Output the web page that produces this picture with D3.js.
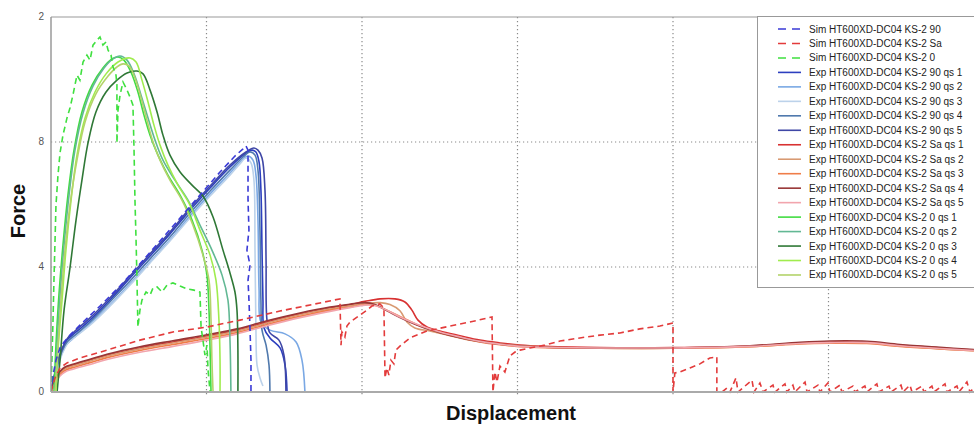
<!DOCTYPE html>
<html>

<head>
  <meta charset="utf-8">
  <style>
    body {
      margin: 0;
      background: #fff;
      font-family: 'Liberation Sans', Arial, sans-serif;
    }

    .grid line {
      stroke: #8a8a8a;
      stroke-width: 1.2;
      stroke-dasharray: 1.2, 2.8;
    }

    .frame {
      stroke: #9a9a9a;
      fill: none;
    }

    .tick-label {
      font-size: 10px;
      fill: #555;
      text-anchor: end;
    }

    .axis-title {
      font-size: 20px;
      font-weight: bold;
      fill: #111;
      text-anchor: middle;
    }

    .legend text {
      font-size: 10px;
      fill: #222;
    }
  </style>
</head>

<body>
  <div id="chart"></div>

  <script src="https://cdnjs.cloudflare.com/ajax/libs/d3/7.8.5/d3.min.js"></script>
  <script>
    // axis settings
    var xGrid = [10, 20, 30, 40, 50];
    var yTicks = [0, 4, 8, 12];
    var yTickLabels = ['0', '4', '8', '2'];

    // simulations
    var sim90 = [[0,0],[0.13,0.54],[0.32,1.02],[0.58,1.41],[0.84,1.6],[1.22,1.82],[1.86,2.14],[3.15,2.75],[4.44,3.39],[5.72,4.1],[7.01,4.83],[8.3,5.57],[9.58,6.3],[10.87,7.04],[11.83,7.55],[12.35,7.78],[12.54,7.87],[12.67,7.74],[12.67,6.14],[12.73,5.18],[12.6,4.54],[12.8,4.06],[12.67,3.58],[12.73,2.94],[12.8,1.98],[12.86,1.02],[12.86,0]];

    var simSa = [[0,0],[0.26,0.45],[0.58,0.77],[1.03,0.93],[1.86,1.09],[3.6,1.34],[5.72,1.66],[7.84,1.92],[10.03,2.08],[12.15,2.3],[14.72,2.59],[17.3,2.85],[18.58,2.98],[18.65,1.5],[18.71,1.92],[18.9,1.76],[19.03,2.11],[19.23,2.24],[19.87,2.46],[20.32,2.62],[20.64,2.75],[21.15,2.82],[21.41,2.69],[21.48,0.45],[21.6,0.77],[21.73,0.54],[21.86,1.02],[22.05,0.9],[22.18,1.34],[22.44,1.47],[23.08,1.73],[24.18,1.95],[25.66,2.11],[26.94,2.24],[28.36,2.4],[28.42,0],[28.55,0.64],[28.68,0.32],[28.87,0.83],[29.19,0.64],[29.51,1.15],[29.84,1.28],[30.16,1.34],[30.8,1.41],[31.76,1.5],[32.73,1.63],[34.01,1.73],[35.3,1.82],[36.59,1.89],[37.87,2.02],[39.16,2.11],[40,2.21],[40,0],[40.12,0.61],[40.45,0.64],[41.09,0.77],[41.73,0.9],[42.37,1.09],[42.82,1.12],[42.82,0],
      [43.15,0],[43.47,0.13],[43.66,0],[44.05,0.45],[44.18,0],[44.63,0.19],[45.08,0.38],[45.21,0],[45.59,0.29],[45.79,0],[46.43,0.22],[46.56,0],[47.2,0.26],[47.33,0],[47.71,0.22],[47.84,0],[48.49,0.32],[48.62,0],[49.32,0.22],[49.45,0],[49.96,0.29],[50.09,0],[50.74,0.22],[50.86,0],[51.57,0.19],[51.7,0],[52.34,0.19],[52.47,0],[53.11,0.26],[53.24,0],[53.89,0.19],[54.02,0],[54.66,0.22],[54.79,0],[55.24,0.22],[55.37,0],[56.01,0.19],[56.14,0],[56.65,0.19],[56.78,0],[57.49,0.26],[57.62,0],[58.26,0.19],[58.39,0],[58.9,0.32],[59.1,0],[59.36,0.13]];

    var sim0 = [[0,0],[0.06,1.02],[0.13,2.3],[0.19,3.58],[0.26,4.86],[0.32,5.98],[0.45,6.94],[0.58,7.65],[0.77,8.22],[1.03,8.77],[1.22,9.09],[1.41,9.5],[1.67,10.14],[1.86,9.98],[2.06,10.56],[2.31,10.78],[2.51,10.62],[2.7,11.1],[2.96,11.26],[3.15,11.36],[3.34,11.1],[3.54,11.2],[3.67,10.94],[3.86,10.78],[3.99,10.4],[4.18,10.14],[4.24,9.82],[4.24,7.97],[4.31,9.02],[4.44,9.5],[4.63,9.92],[4.89,9.66],[5.08,9.44],[5.27,9.18],[5.34,7.74],[5.4,6.14],[5.47,4.86],[5.53,3.58],[5.59,2.08],[5.72,2.62],[5.85,2.94],[6.11,3.2],[6.37,3.1],[6.56,3.33],[6.82,3.36],[7.14,3.2],[7.46,3.42],[7.84,3.49],[8.3,3.39],[8.75,3.3],[9.19,3.26],[9.58,3.2],[9.65,2.08],[9.77,1.66],[9.9,1.18],[10.03,1.5],[10.1,0.7],[10.16,0.38],[10.23,0]];

    // experiments, 90
    var exp90qs1 = [[0,0],[0.19,0.45],[0.45,0.96],[0.71,1.34],[1.03,1.66],[1.54,1.89],[2.51,2.3],[3.79,2.94],[5.08,3.65],[6.37,4.35],[7.65,5.06],[8.94,5.82],[10.23,6.53],[11.51,7.2],[12.48,7.62],[12.93,7.74],[13.18,7.68],[13.38,7.36],[13.5,6.46],[13.57,4.54],[13.63,2.94],[13.7,2.05],[14.08,1.73],[14.73,1.41],[15.05,0.86],[15.18,0]];
    var exp90qs2 = [[0,0],[0.19,0.38],[0.45,0.86],[0.71,1.25],[1.03,1.54],[1.54,1.76],[2.51,2.18],[3.79,2.78],[5.08,3.46],[6.37,4.16],[7.65,4.86],[8.94,5.63],[10.23,6.34],[11.51,7.01],[12.28,7.42],[12.67,7.55],[12.99,7.42],[13.18,6.94],[13.31,5.5],[13.38,3.26],[13.5,2.24],[14.08,1.98],[15.05,1.86],[15.76,1.6],[16.14,1.02],[16.33,0]];
    var exp90qs3 = [[0,0],[0.26,0.45],[0.51,0.9],[0.77,1.28],[1.09,1.57],[1.61,1.79],[2.51,2.14],[3.79,2.75],[5.08,3.42],[6.37,4.13],[7.65,4.83],[8.94,5.57],[10.23,6.27],[11.51,6.94],[12.15,7.3],[12.54,7.49],[12.86,7.33],[13.05,6.78],[13.12,4.54],[13.18,1.98],[13.25,0.86],[13.44,0.45],[13.63,0.19]];
    var exp90qs4 = [[0,0],[0.19,0.42],[0.45,0.9],[0.71,1.31],[1.03,1.6],[1.54,1.82],[2.51,2.24],[3.79,2.88],[5.08,3.55],[6.37,4.26],[7.65,4.96],[8.94,5.73],[10.23,6.43],[11.51,7.1],[12.35,7.52],[12.8,7.68],[13.12,7.58],[13.31,7.1],[13.44,5.18],[13.5,2.94],[13.57,1.98],[13.83,1.5],[14.02,0.86],[14.08,0]];
    var exp90qs5 = [[0,0],[0.19,0.48],[0.45,1.02],[0.71,1.38],[1.03,1.7],[1.54,1.95],[2.51,2.37],[3.79,3.01],[5.08,3.71],[6.37,4.42],[7.65,5.12],[8.94,5.89],[10.23,6.59],[11.51,7.26],[12.54,7.68],[13.05,7.81],[13.31,7.74],[13.57,7.49],[13.76,6.46],[13.83,4.22],[13.89,2.3],[14.08,1.89],[14.66,1.66],[14.98,1.18],[15.11,0]];

    // experiments, Sa
    var expSaqs1 = [[0,0],[0.13,0.19],[0.32,0.45],[0.58,0.64],[0.9,0.77],[1.41,0.86],[2.51,1.02],[3.6,1.18],[5.72,1.41],[7.84,1.6],[10.03,1.79],[11.96,1.98],[13.89,2.24],[16.01,2.5],[17.94,2.69],[19.23,2.8],[20.19,2.9],[21.16,2.98],[22.12,2.98],[22.76,2.88],[23.21,2.62],[23.6,2.3],[24.18,2.08],[25.01,1.95],[26.3,1.8],[27.58,1.66],[28.87,1.57],[30.16,1.5],[31.76,1.46],[35.3,1.42],[40,1.42],[44.95,1.47],[48.16,1.57],[50.09,1.6],[52.47,1.6],[54.59,1.5],[57.16,1.41],[59.35,1.34]];
    var expSaqs2 = [[0,0],[0.13,0.17],[0.32,0.42],[0.58,0.61],[0.9,0.74],[1.41,0.83],[2.51,0.99],[3.6,1.15],[5.72,1.38],[7.84,1.57],[10.03,1.76],[11.96,1.95],[13.89,2.21],[16.01,2.47],[17.94,2.66],[19.23,2.76],[20.19,2.83],[21.16,2.86],[21.8,2.8],[22.44,2.6],[22.89,2.24],[23.4,2.05],[24.37,1.95],[25.66,1.8],[26.94,1.66],[28.23,1.57],[29.51,1.5],[31.76,1.44],[35.3,1.4],[40,1.4],[44.95,1.45],[48.16,1.55],[50.09,1.58],[52.47,1.57],[54.59,1.47],[57.16,1.38],[59.35,1.32]];
    var expSaqs3 = [[0,0],[0.13,0.15],[0.32,0.38],[0.58,0.56],[0.9,0.69],[1.41,0.78],[2.51,0.94],[3.6,1.1],[5.72,1.33],[7.84,1.52],[10.03,1.71],[11.96,1.9],[13.89,2.16],[16.01,2.42],[17.94,2.62],[19.23,2.72],[20.19,2.8],[20.83,2.78],[21.67,2.6],[22.44,2.42],[23.73,2.12],[25.01,1.9],[26.3,1.74],[27.58,1.6],[28.87,1.51],[30.16,1.45],[31.76,1.42],[35.3,1.4],[40,1.4],[44.95,1.45],[48.16,1.54],[50.09,1.56],[52.47,1.55],[54.59,1.46],[57.16,1.38],[59.35,1.32]];
    var expSaqs4 = [[0,0],[0.13,0.2],[0.32,0.47],[0.58,0.66],[0.9,0.8],[1.41,0.89],[2.51,1.05],[3.6,1.21],[5.72,1.45],[7.84,1.64],[10.03,1.83],[11.96,2.02],[13.89,2.28],[16.01,2.53],[17.94,2.72],[19.23,2.81],[20.19,2.86],[20.83,2.8],[21.67,2.58],[22.44,2.38],[23.73,2.1],[25.01,1.9],[26.3,1.74],[27.58,1.62],[28.87,1.53],[30.16,1.47],[31.76,1.43],[35.3,1.41],[40,1.41],[44.95,1.48],[48.16,1.59],[50.09,1.63],[52.47,1.62],[54.59,1.52],[57.16,1.43],[59.35,1.36]];
    var expSaqs5 = [[0,0],[0.13,0.13],[0.32,0.34],[0.58,0.51],[0.9,0.64],[1.41,0.73],[2.51,0.88],[3.6,1.04],[5.72,1.27],[7.84,1.46],[10.03,1.66],[11.96,1.86],[13.89,2.12],[16.01,2.38],[17.94,2.58],[19.23,2.7],[20.19,2.78],[20.83,2.77],[21.67,2.6],[22.44,2.4],[23.73,2.13],[25.01,1.92],[26.3,1.76],[27.58,1.62],[28.87,1.53],[30.16,1.46],[31.76,1.43],[35.3,1.41],[40,1.41],[44.95,1.46],[48.16,1.55],[50.09,1.58],[52.47,1.58],[54.59,1.48],[57.16,1.39],[59.35,1.33]];

    // experiments, 0
    var exp0qs1 = [[0.19,0],[0.32,1.5],[0.51,3.1],[0.77,4.7],[1.09,6.3],[1.48,7.74],[1.99,8.96],[2.64,9.82],[3.34,10.37],[3.92,10.66],[4.31,10.72],[4.69,10.62],[5.14,10.24],[5.59,9.6],[5.98,8.86],[6.37,8.22],[6.88,7.58],[7.52,6.94],[8.3,6.3],[9.07,5.5],[9.71,4.54],[10.03,3.74],[10.16,2.62],[10.23,1.34],[10.29,0]];
    var exp0qs2 = [[0.26,0],[0.39,1.5],[0.58,3.1],[0.84,4.7],[1.16,6.3],[1.54,7.74],[2.06,8.93],[2.7,9.79],[3.41,10.37],[3.99,10.66],[4.44,10.75],[4.89,10.62],[5.34,10.18],[5.79,9.5],[6.24,8.77],[6.69,8.06],[7.2,7.42],[7.97,6.78],[8.81,6.14],[9.58,5.34],[10.35,4.54],[11.0,3.74],[11.38,2.94],[11.51,1.66],[11.57,0]];
    var exp0qs3 = [[0.39,0],[0.58,1.02],[0.84,2.62],[1.22,3.97],[1.61,5.5],[1.99,6.78],[2.38,7.97],[2.89,8.96],[3.54,9.6],[4.24,9.98],[4.89,10.21],[5.53,10.27],[5.92,10.18],[6.37,9.66],[6.82,8.96],[7.2,8.22],[7.65,7.58],[8.3,7.04],[9.07,6.62],[9.77,6.27],[10.42,5.6],[11.06,4.54],[11.51,3.81],[11.83,3.2],[11.96,2.62],[12.02,1.34],[12.02,0]];
    var exp0qs4 = [[0.32,0],[0.45,1.34],[0.71,2.94],[0.96,4.54],[1.29,6.14],[1.67,7.58],[2.19,8.77],[2.83,9.6],[3.54,10.18],[4.31,10.56],[5.08,10.69],[5.47,10.56],[5.85,9.98],[6.24,9.28],[6.62,8.54],[7.01,7.9],[7.52,7.26],[8.17,6.62],[8.94,5.98],[9.58,5.18],[10.23,4.38],[10.61,3.58],[10.8,2.3],[10.87,1.02],[10.87,0]];
    var exp0qs5 = [[0.26,0],[0.45,1.5],[0.64,2.94],[0.9,4.54],[1.22,5.98],[1.67,7.42],[2.19,8.64],[2.89,9.54],[3.67,10.11],[4.24,10.4],[4.63,10.5],[5.02,10.43],[5.4,10.05],[5.79,9.41],[6.17,8.7],[6.56,8.0],[7.01,7.42],[7.65,6.78],[8.42,6.14],[9.13,5.34],[9.77,4.38],[10.16,3.58],[10.29,2.3],[10.35,1.02],[10.42,0]];

    var seriesNames = [
      'Sim HT600XD-DC04 KS-2 90', 'Sim HT600XD-DC04 KS-2 Sa', 'Sim HT600XD-DC04 KS-2 0',
      'Exp HT600XD-DC04 KS-2 90 qs 1', 'Exp HT600XD-DC04 KS-2 90 qs 2', 'Exp HT600XD-DC04 KS-2 90 qs 3',
      'Exp HT600XD-DC04 KS-2 90 qs 4', 'Exp HT600XD-DC04 KS-2 90 qs 5',
      'Exp HT600XD-DC04 KS-2 Sa qs 1', 'Exp HT600XD-DC04 KS-2 Sa qs 2', 'Exp HT600XD-DC04 KS-2 Sa qs 3',
      'Exp HT600XD-DC04 KS-2 Sa qs 4', 'Exp HT600XD-DC04 KS-2 Sa qs 5',
      'Exp HT600XD-DC04 KS-2 0 qs 1', 'Exp HT600XD-DC04 KS-2 0 qs 2', 'Exp HT600XD-DC04 KS-2 0 qs 3',
      'Exp HT600XD-DC04 KS-2 0 qs 4', 'Exp HT600XD-DC04 KS-2 0 qs 5'
    ];
    var seriesData = [sim90, simSa, sim0,
      exp90qs1, exp90qs2, exp90qs3, exp90qs4, exp90qs5,
      expSaqs1, expSaqs2, expSaqs3, expSaqs4, expSaqs5,
      exp0qs1, exp0qs2, exp0qs3, exp0qs4, exp0qs5];
    var seriesColors = ['#3a3ad6', '#e33b3b', '#3fe03f',
      '#2c3fbf', '#7aa8e4', '#bcd2ea', '#5079ad', '#3f47a6',
      '#d83232', '#d89a72', '#ef7d48', '#983636', '#f2a5ad',
      '#41dc41', '#62b894', '#2f7836', '#a0ec4e', '#b3d36a'];

    var series = seriesNames.map(function(name, i) {
      return {
        name: name,
        data: seriesData[i],
        color: seriesColors[i],
        sim: name.indexOf('Sim') === 0
      };
    });

    var width = 974,
      height = 426,
      plot = { left: 51, top: 17, right: 974, bottom: 392 };

    var x = d3.scaleLinear().domain([0, 60]).range([plot.left, 984]);
    var y = d3.scaleLinear().domain([0, 12]).range([plot.bottom, plot.top]);

    var svg = d3.select('#chart').append('svg')
      .attr('width', width)
      .attr('height', height);

    svg.append('defs').append('clipPath')
      .attr('id', 'clip')
      .append('rect')
      .attr('x', plot.left)
      .attr('y', plot.top)
      .attr('width', plot.right - plot.left)
      .attr('height', plot.bottom - plot.top + 2);

    // dotted grid
    var grid = svg.append('g').attr('class', 'grid');
    grid.selectAll('.vx')
      .data(xGrid)
      .enter().append('line')
      .attr('x1', function(d) { return x(d); })
      .attr('x2', function(d) { return x(d); })
      .attr('y1', plot.top)
      .attr('y2', plot.bottom + 4);
    grid.selectAll('.hy')
      .data(yTicks.filter(function(d) { return d > 0 && d < 12; }))
      .enter().append('line')
      .attr('x1', plot.left)
      .attr('x2', plot.right)
      .attr('y1', function(d) { return y(d); })
      .attr('y2', function(d) { return y(d); });

    // curves
    var simLine = d3.line()
      .x(function(d) { return x(d[0]); })
      .y(function(d) { return y(d[1]); });
    var expLine = d3.line()
      .x(function(d) { return x(d[0]); })
      .y(function(d) { return y(d[1]); })
      .curve(d3.curveCatmullRom.alpha(0.5));

    var curves = svg.append('g').attr('clip-path', 'url(#clip)');
    var ordered = series.filter(function(s) { return !s.sim; }).concat(series.filter(function(s) { return s.sim; }));
    curves.selectAll('path')
      .data(ordered)
      .enter().append('path')
      .attr('d', function(d) { return d.sim ? simLine(d.data) : expLine(d.data); })
      .attr('fill', 'none')
      .attr('stroke', function(d) { return d.color; })
      .attr('stroke-width', 1.6)
      .attr('stroke-dasharray', function(d) { return d.sim ? '6,4' : null; });

    // frame
    svg.append('line').attr('class', 'frame')
      .attr('x1', plot.left).attr('x2', plot.right)
      .attr('y1', plot.top).attr('y2', plot.top)
      .attr('stroke-width', 1.2);
    svg.append('line').attr('class', 'frame')
      .attr('x1', plot.left).attr('x2', plot.left)
      .attr('y1', plot.top).attr('y2', plot.bottom)
      .attr('stroke-width', 1.5);
    svg.append('line').attr('class', 'frame')
      .attr('x1', plot.left).attr('x2', plot.right)
      .attr('y1', plot.bottom).attr('y2', plot.bottom)
      .style('stroke', '#aaa')
      .attr('stroke-width', 2);

    // y tick labels
    svg.selectAll('.tick-label')
      .data(yTicks)
      .enter().append('text')
      .attr('class', 'tick-label')
      .attr('x', 44)
      .attr('y', function(d) { return y(d); })
      .attr('dy', '0.32em')
      .text(function(d, i) { return yTickLabels[i]; });

    // axis titles
    svg.append('text')
      .attr('class', 'axis-title')
      .attr('transform', 'translate(25,211) rotate(-90)')
      .text('Force');
    svg.append('text')
      .attr('class', 'axis-title')
      .attr('x', 511)
      .attr('y', 420)
      .text('Displacement');

    // legend
    var li = { x: 757.5, y: 16.5, w: 240, h: 271, first: 29, step: 14.47 };
    var legend = svg.append('g').attr('class', 'legend');
    legend.append('rect')
      .attr('x', li.x)
      .attr('y', li.y)
      .attr('width', li.w)
      .attr('height', li.h)
      .attr('fill', '#fff')
      .attr('stroke', '#999');

    var item = legend.selectAll('g')
      .data(series)
      .enter().append('g')
      .attr('transform', function(d, i) {
        return 'translate(0,' + (li.first + i * li.step) + ')';
      });
    item.append('line')
      .attr('x1', 778)
      .attr('x2', 801)
      .attr('stroke', function(d) { return d.color; })
      .attr('stroke-width', 1.6)
      .attr('stroke-dasharray', function(d) { return d.sim ? '8,6' : null; });
    item.append('text')
      .attr('x', 809)
      .attr('dy', '0.35em')
      .text(function(d) { return d.name; });
  </script>

</body>

</html>
